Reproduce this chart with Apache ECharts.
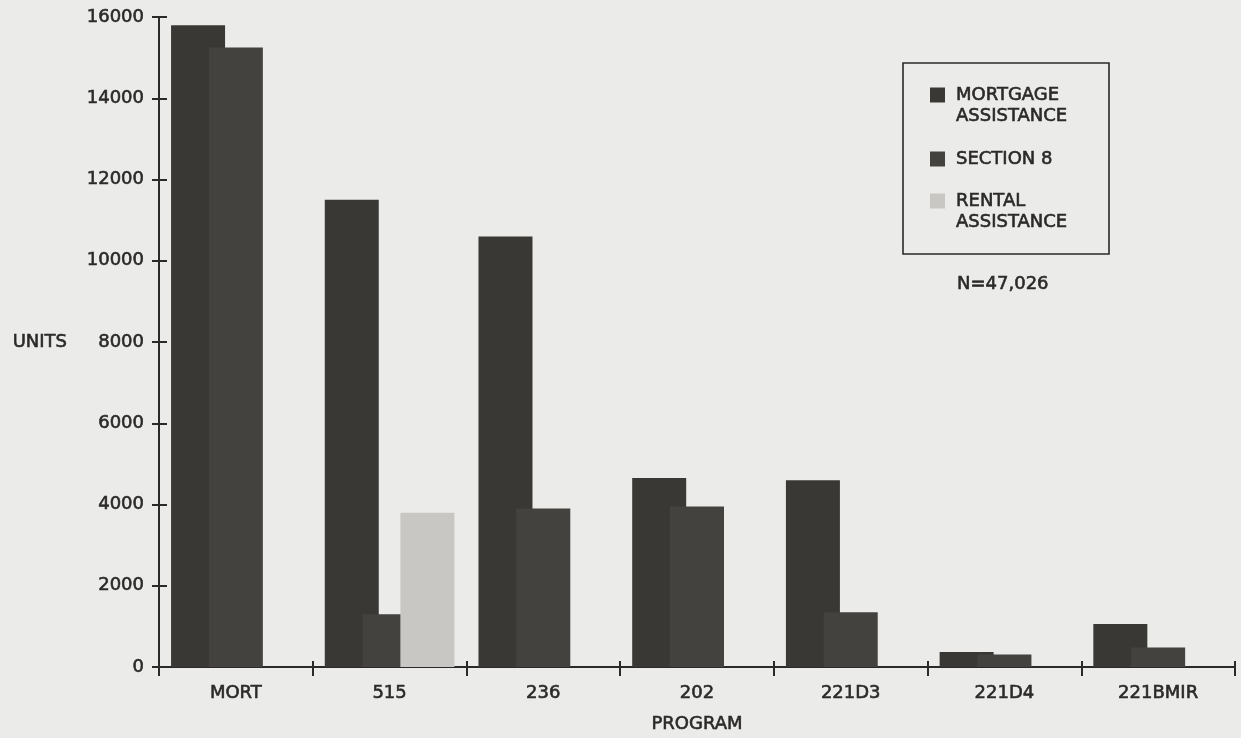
<!DOCTYPE html>
<html>
<head>
<meta charset="utf-8">
<script src="https://cdn.jsdelivr.net/npm/echarts@6/dist/echarts.min.js"></script>
<style>
  html, body { margin: 0; padding: 0; background: #ebebe9; }
  #chart { width: 1241px; height: 738px; }
</style>
</head>
<body>
<div id="chart"></div>
<script>
// Housing units by program and assistance type
const programs = ['MORT', '515', '236', '202', '221D3', '221D4', '221BMIR'];
const mortgageAssistance = [15800, 11500, 10600, 4650, 4600, 370, 1060];
const section8 = [15250, 1300, 3900, 3950, 1350, 310, 480];
const rentalAssistance = [0, 3800, 0, 0, 0, 0, 0];
const yTicks = { min: 0, max: 16000, interval: 2000 };
const seriesNames = ['MORTGAGE ASSISTANCE', 'SECTION 8', 'RENTAL ASSISTANCE'];
const totalNote = 'N=47,026';

const ink = '#2b2a28';
const font = 'DejaVu Sans';
const fs = 18;
// slightly heavier lettering: a thin outline in the text colour
const txt = { fontFamily: font, fontSize: fs, color: ink, textBorderColor: ink, textBorderWidth: 0.6 };

const chart = echarts.init(document.getElementById('chart'), null, { renderer: 'canvas' });

// One legend per entry so each can sit at its own line in the framed key.
// Two-word names wrap; a leading blank line keeps the swatch beside the first word.
function legendFor(name, top) {
  return {
    data: [name],
    orient: 'vertical',
    left: 930,
    top: top,
    padding: 0,
    itemWidth: 15,
    itemHeight: 15,
    icon: 'rect',
    selectedMode: false,
    formatter: n => n.indexOf(' ASSISTANCE') > 0 ? '\n' + n.replace(' ASSISTANCE', '\nASSISTANCE') : n,
    textStyle: Object.assign({}, txt, { lineHeight: 21, padding: [0, 0, 0, 6] })
  };
}

chart.setOption({
  backgroundColor: '#ebebe9',
  animation: false,
  textStyle: { fontFamily: font },
  grid: { left: 159, right: 6, top: 17, bottom: 71, outerBoundsMode: 'none' },
  title: {
    text: totalNote,
    left: 957,
    top: 275,
    padding: 0,
    textStyle: Object.assign({}, txt, { fontWeight: 'normal' })
  },
  legend: [
    legendFor(seriesNames[0], 63.5),
    legendFor(seriesNames[1], 148.5),
    legendFor(seriesNames[2], 169.5)
  ],
  xAxis: [
    {
      type: 'category',
      data: programs,
      name: 'PROGRAM',
      nameLocation: 'middle',
      nameGap: 48,
      nameTextStyle: txt,
      axisLine: { lineStyle: { color: ink, width: 2 } },
      axisTick: { show: true, length: 9, lineStyle: { color: ink, width: 2 } },
      axisLabel: Object.assign({}, txt, { margin: 17 })
    },
    {
      // inner half of the crossing tick marks
      type: 'category',
      data: programs,
      position: 'bottom',
      axisLine: { show: false },
      axisTick: { show: true, inside: true, length: 6, lineStyle: { color: ink, width: 2 } },
      axisLabel: { show: false }
    }
  ],
  yAxis: [
    {
      type: 'value',
      min: yTicks.min,
      max: yTicks.max,
      interval: yTicks.interval,
      name: 'UNITS',
      nameLocation: 'middle',
      nameRotate: 0,
      nameGap: 92,
      nameTextStyle: txt,
      splitLine: { show: false },
      axisLine: { show: true, lineStyle: { color: ink, width: 2 } },
      axisTick: { show: true, length: 7, lineStyle: { color: ink, width: 2 } },
      axisLabel: Object.assign({}, txt, { margin: 15, formatter: v => String(v) })
    },
    {
      // inner half of the crossing tick marks
      type: 'value',
      min: yTicks.min,
      max: yTicks.max,
      interval: yTicks.interval,
      position: 'left',
      splitLine: { show: false },
      axisLine: { show: false },
      axisTick: { show: true, inside: true, length: 8, lineStyle: { color: ink, width: 2 } },
      axisLabel: { show: false }
    }
  ],
  graphic: [
    {
      type: 'rect',
      shape: { x: 903, y: 63, width: 206, height: 191 },
      style: { fill: 'none', stroke: ink, lineWidth: 1.6 },
      z: 10
    }
  ],
  series: [
    {
      name: seriesNames[0],
      type: 'bar',
      data: mortgageAssistance,
      barWidth: 54,
      barGap: '-30%',
      itemStyle: { color: '#3a3835' }
    },
    {
      name: seriesNames[1],
      type: 'bar',
      data: section8,
      barWidth: 54,
      barGap: '-30%',
      itemStyle: { color: '#44423f' }
    },
    {
      name: seriesNames[2],
      type: 'bar',
      data: rentalAssistance,
      barWidth: 54,
      barGap: '-30%',
      itemStyle: { color: '#c9c7c4' }
    }
  ]
});
</script>
</body>
</html>
